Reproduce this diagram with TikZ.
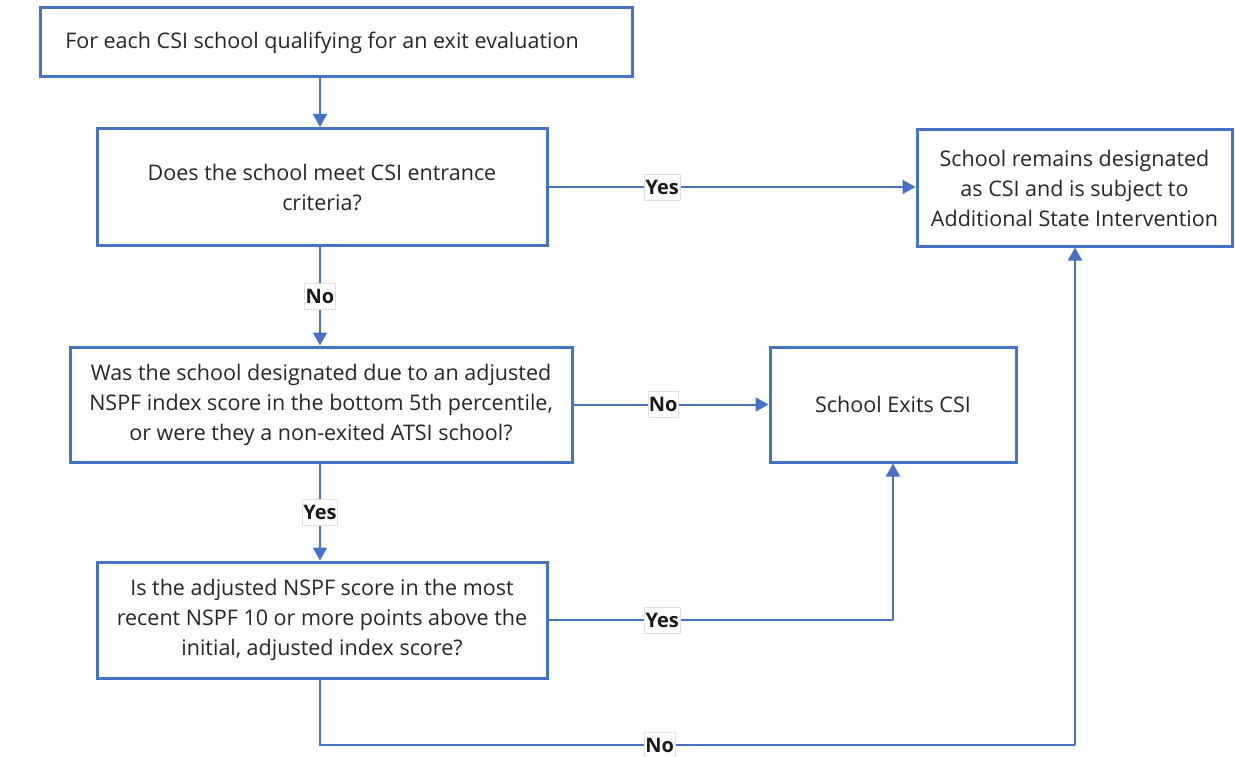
\documentclass[tikz,border=0pt]{standalone}
\usepackage{fontspec}
\setmainfont{Open Sans}
\usetikzlibrary{arrows.meta}
\definecolor{mblue}{HTML}{4472C4}
\definecolor{mtext}{HTML}{262626}
\tikzset{
  box/.style={draw=mblue, line width=3pt, fill=white, align=center, text=mtext, font=\fontsize{21.5}{30}\selectfont, inner sep=0pt},
  conn/.style={draw=mblue, line width=2pt, -{Triangle[length=13pt,width=14pt]}},
  line/.style={draw=mblue, line width=2pt},
  lbl/.style={fill=white, draw=black!12, line width=0.5pt, font=\bfseries\fontsize{20}{22}\selectfont, inner xsep=1pt, inner ysep=6pt, text=black!90}
}
\begin{document}
\begin{tikzpicture}[x=1pt,y=-1pt]
\useasboundingbox (0,0) rectangle (1235,757);
\node[box, minimum width=592pt, minimum height=69pt] (a) at (336,42.5) {\hspace*{-28pt}For each CSI school qualifying for an exit evaluation};
\node[box, minimum width=450pt, minimum height=117pt] (b) at (322,187) {Does the school meet CSI entrance\\criteria?};
\node[box, minimum width=315pt, minimum height=116pt] (r) at (1074.5,188) {School remains designated\\as CSI and is subject to\\Additional State Intervention};
\node[box, minimum width=502pt, minimum height=115pt] (c) at (321,404.5) {Was the school designated due to an adjusted\\NSPF index score in the bottom 5th percentile,\\or were they a non-exited ATSI school?};
\node[box, minimum width=246pt, minimum height=115pt] (e) at (893,404.5) {School Exits CSI};
\node[box, minimum width=450pt, minimum height=116pt] (d) at (322,620) {Is the adjusted NSPF score in the most\\recent NSPF 10 or more points above the\\initial, adjusted index score?};
\coordinate (d1) at (893,620);
\coordinate (n1) at (320,745);
\coordinate (n2) at (1075,745);

\draw[conn] (a.south -| 320,0) -- (b.north -| 320,0);
\draw[conn] (b.east) -- node[lbl, pos=0.31]{Yes} (b.east -| r.west);
\draw[conn] (b.south -| 320,0) -- node[lbl, pos=0.5]{No} (c.north -| 320,0);
\draw[conn] (c.east) -- node[lbl, pos=0.46]{No} (e.west);
\draw[conn] (c.south -| 320,0) -- node[lbl, pos=0.5]{Yes} (d.north -| 320,0);
\draw[line] (d.east) -- node[lbl, pos=0.33]{Yes} (d1);
\draw[conn] (d1) -- (e.south);
\draw[line] (d.south -| 320,0) -- (n1) -- node[lbl, pos=0.45]{No} (n2);
\draw[conn] (n2) -- (r.south -| n2);
\end{tikzpicture}
\end{document}
